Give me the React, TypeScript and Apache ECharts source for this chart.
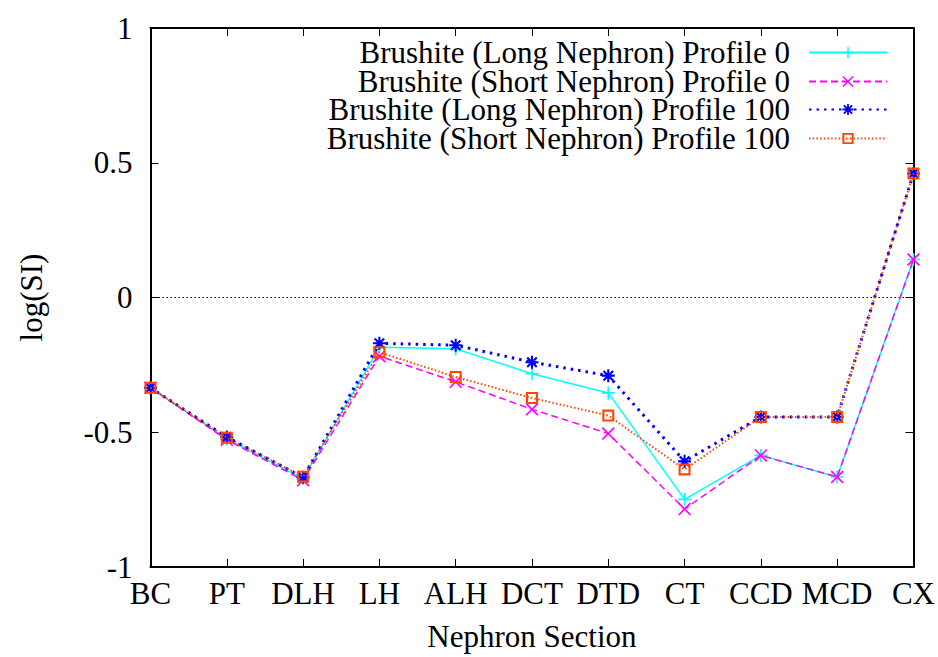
import React, { useEffect, useRef } from "react";
import * as echarts from "echarts";

const categories = ["BC", "PT", "DLH", "LH", "ALH", "DCT", "DTD", "CT", "CCD", "MCD", "CX"];
const seriesNames = [
  "Brushite (Long Nephron) Profile 0",
  "Brushite (Short Nephron) Profile 0",
  "Brushite (Long Nephron) Profile 100",
  "Brushite (Short Nephron) Profile 100",
];
const longProfile0 = [-0.335, -0.525, -0.672, -0.185, -0.19, -0.283, -0.354, -0.749, -0.586, -0.666, 0.141];
const shortProfile0 = [-0.335, -0.528, -0.678, -0.218, -0.313, -0.415, -0.505, -0.785, -0.586, -0.666, 0.141];
const longProfile100 = [-0.335, -0.518, -0.667, -0.17, -0.177, -0.24, -0.29, -0.608, -0.443, -0.443, 0.46];
const shortProfile100 = [-0.335, -0.52, -0.665, -0.203, -0.295, -0.373, -0.438, -0.638, -0.443, -0.443, 0.46];
const yTicks = { min: -1, max: 1, interval: 0.5 };

const FONT = "Liberation Serif";

const PLUS = "path://M-1.3,-10H1.3V-1.3H10V1.3H1.3V10H-1.3V1.3H-10V-1.3H-1.3Z";
const CROSS =
  "path://M-10,-8.2L-8.2,-10L10,8.2L8.2,10Z M8.2,-10L10,-8.2L-8.2,10L-10,8.2Z";
const STAR =
  "path://M-1.6,-10H1.6V-1.6H10V1.6H1.6V10H-1.6V1.6H-10V-1.6H-1.6Z M-8.5,-6.2L-6.2,-8.5L8.5,6.2L6.2,8.5Z M6.2,-8.5L8.5,-6.2L-6.2,8.5L-8.5,6.2Z";
const SQUARE = "path://M-10,-10H10V10H-10Z M-6.5,-6.5V6.5H6.5V-6.5Z";

export default function App() {
  const ref = useRef<HTMLDivElement>(null);
  useEffect(() => {
    if (!ref.current) return;
    const chart = echarts.init(ref.current, undefined, { renderer: "svg" });
    const datasets = [longProfile0, shortProfile0, longProfile100, shortProfile100];
    const colors = ["#00ffff", "#ff00ff", "#0000ff", "#ff4500"];
    const symbols = [PLUS, CROSS, STAR, SQUARE];
    const sizes = [13, 13, 13, 12];
    const lineTypes: any[] = ["solid", [7, 4], [2.5, 5], [1.5, 2.2]];
    const widths = [1.5, 1.5, 3, 2];
    const legendTops = [37, 66, 94, 123];

    const series: any[] = datasets.map((d, i) => ({
      name: seriesNames[i],
      type: "line",
      data: d,
      symbol: symbols[i],
      symbolSize: sizes[i],
      showSymbol: true,
      itemStyle: { color: colors[i] },
      lineStyle: { color: colors[i], width: widths[i], type: lineTypes[i] },
      z: 3 + i,
      ...(i === 0
        ? {
            markLine: {
              silent: true,
              symbol: ["none", "none"],
              label: { show: false },
              lineStyle: { color: "#000", width: 1, type: [1.5, 2.5] },
              data: [{ yAxis: 0 }],
              z: 1,
            },
          }
        : {}),
    }));

    const axisLine = { show: true, onZero: false, lineStyle: { color: "#000", width: 2 } };
    const axisTick = { show: true, inside: true, length: 8, lineStyle: { color: "#000", width: 1 } };

    chart.setOption({
      animation: false,
      backgroundColor: "#fff",
      textStyle: { fontFamily: FONT },
      grid: { left: 150.5, right: 24.5, top: 28, bottom: 86.5, containLabel: false },
      legend: seriesNames.map((n, i) => ({
        data: [n],
        orient: "vertical",
        align: "right",
        right: 50,
        top: legendTops[i],
        padding: 0,
        itemWidth: 78,
        itemHeight: 14,
        selectedMode: false,
        textStyle: {
          fontFamily: FONT,
          fontSize: 31,
          color: "#000",
          lineHeight: 28,
          padding: [0, 14, 0, 0],
        },
      })),
      xAxis: [
        {
          type: "category",
          data: categories,
          boundaryGap: false,
          position: "bottom",
          name: "Nephron Section",
          nameLocation: "middle",
          nameGap: 54,
          nameTextStyle: { fontFamily: FONT, fontSize: 31, color: "#000" },
          axisLine,
          axisTick,
          axisLabel: { fontFamily: FONT, fontSize: 31, color: "#000", margin: 11, interval: 0 },
          splitLine: { show: false },
        },
        {
          type: "category",
          data: categories,
          boundaryGap: false,
          position: "top",
          axisLine,
          axisTick,
          axisLabel: { show: false },
          splitLine: { show: false },
        },
      ],
      yAxis: [
        {
          type: "value",
          min: yTicks.min,
          max: yTicks.max,
          interval: yTicks.interval,
          position: "left",
          name: "log(SI)",
          nameLocation: "middle",
          nameGap: 104,
          nameRotate: 90,
          nameTextStyle: { fontFamily: FONT, fontSize: 31, color: "#000" },
          axisLine,
          axisTick,
          axisLabel: {
            fontFamily: FONT,
            fontSize: 31,
            color: "#000",
            margin: 18,
            formatter: (v: number) => String(v),
          },
          splitLine: { show: false },
        },
        {
          type: "value",
          min: yTicks.min,
          max: yTicks.max,
          interval: yTicks.interval,
          position: "right",
          axisLine,
          axisTick,
          axisLabel: { show: false },
          splitLine: { show: false },
        },
      ],
      series,
    });
    return () => chart.dispose();
  }, []);
  return <div ref={ref} style={{ width: 938, height: 657, position: "absolute", left: 0, top: 0 }} />;
}
